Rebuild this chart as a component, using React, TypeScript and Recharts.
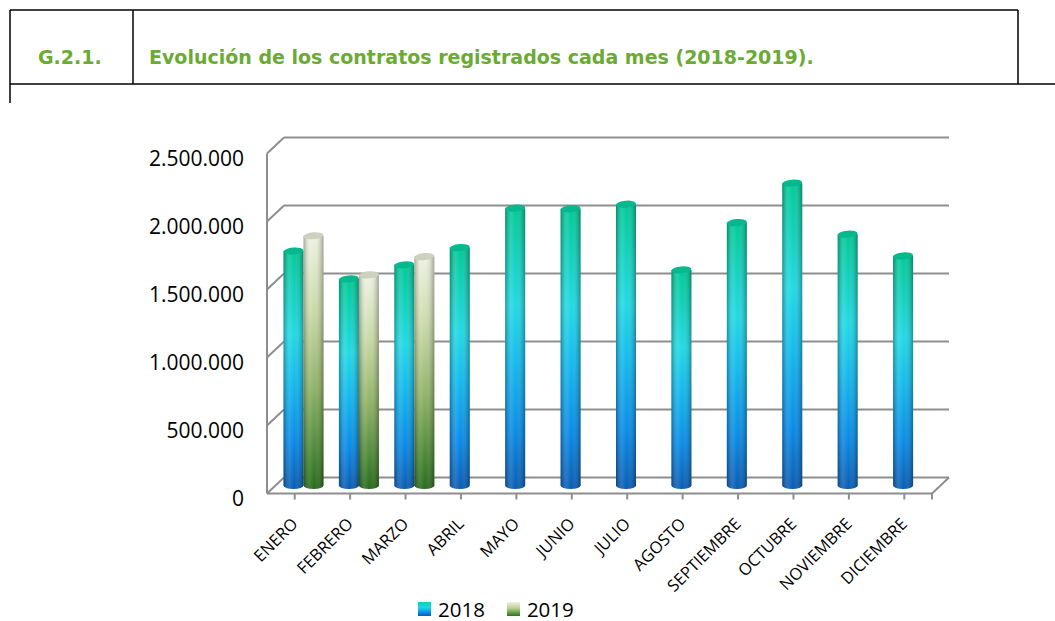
import React from 'react';
import { BarChart, Bar, XAxis, YAxis, CartesianGrid, Legend } from 'recharts';

// ---- data ----
const months = ['ENERO', 'FEBRERO', 'MARZO', 'ABRIL', 'MAYO', 'JUNIO', 'JULIO', 'AGOSTO', 'SEPTIEMBRE', 'OCTUBRE', 'NOVIEMBRE', 'DICIEMBRE'];
const contratos2018 = [1750000, 1545000, 1648000, 1775000, 2065000, 2060000, 2094000, 1611000, 1959000, 2249000, 1874000, 1714000];
const contratos2019: (number | null)[] = [1862000, 1575000, 1709000, null, null, null, null, null, null, null, null, null];
const yTicks = [0, 500000, 1000000, 1500000, 2000000, 2500000];
const seriesNames = ['2018', '2019'];
const titleCode = 'G.2.1.';
const titleText = 'Evolución de los contratos registrados cada mes (2018-2019).';

const data = months.map((m, i) => ({ mes: m, y2018: contratos2018[i], y2019: contratos2019[i] }));

// ---- layout ----
const W = 1055;
const H = 621;
const PLOT_LEFT = 267;
const PLOT_RIGHT = 932;
const PLOT_TOP = 153.5;
const PLOT_BOTTOM = 493.5;
const DEPTH_X = 17;
const DEPTH_Y = -16;
const BAR_DX = 8.5;
const BAR_DY = -8;
const Y_AXIS_W = 100;
const X_AXIS_H = 100;
const GRID = '#8e8e8e';
const FONT = "'Open Sans', 'DejaVu Sans', sans-serif";

const fmt = (v: number) => String(v).replace(/\B(?=(\d{3})+(?!\d))/g, '.');

const gridLine = (p: any) => {
  const { x1, y1, x2, y2 } = p;
  const isFloor = Math.abs(y1 - PLOT_BOTTOM) < 1.5;
  return (
    <g key={p.key}>
      <line x1={x1} y1={y1} x2={x1 + DEPTH_X} y2={y1 + DEPTH_Y} stroke={GRID} strokeWidth={2} />
      <line x1={x1 + DEPTH_X} y1={y1 + DEPTH_Y} x2={x2 + DEPTH_X} y2={y2 + DEPTH_Y} stroke={GRID} strokeWidth={2} />
      {isFloor && <line x1={x2} y1={y2} x2={x2 + DEPTH_X} y2={y2 + DEPTH_Y} stroke={GRID} strokeWidth={2} />}
      {isFloor && <line x1={x2} y1={y2} x2={x2} y2={y2 + 6} stroke={GRID} strokeWidth={2} />}
    </g>
  );
};

const YTick = (p: any) => (
  <text x={PLOT_LEFT - 23} y={p.y + 4} textAnchor="end" dominantBaseline="central" fontFamily={FONT} fontSize={21} fill="#000">
    {fmt(p.payload.value)}
  </text>
);

const XTick = (p: any) => (
  <text
    transform={`translate(${p.x + 4},${PLOT_BOTTOM + 31.5}) rotate(-45)`}
    textAnchor="end"
    fontFamily={FONT}
    fontSize={16.5}
    fill="#000"
  >
    {p.payload.value}
  </text>
);

const Cylinder = (p: any) => {
  const { x, y, width, height, body, top } = p;
  if (x == null || y == null || !height || height <= 0 || isNaN(height)) return null;
  const left = x + BAR_DX;
  const right = left + width;
  const rx = width / 2;
  const ry = 3.5;
  const topY = y + BAR_DY + ry;
  const botY = y + height + BAR_DY;
  const d = `M${left},${topY} L${left},${botY} A${rx},${ry} 0 0 0 ${right},${botY} L${right},${topY} Z`;
  return (
    <g>
      <path d={d} fill={body} />
      <path d={d} fill="url(#shadeH)" />
      <ellipse cx={left + rx} cy={topY} rx={rx} ry={ry} fill={top} transform={`rotate(-5 ${left + rx} ${topY})`} />
    </g>
  );
};

const LegendContent = () => (
  <div style={{ display: 'flex', alignItems: 'center', fontFamily: FONT, fontSize: 20.5, color: '#000', lineHeight: '22px', height: 22, whiteSpace: 'nowrap' }}>
    <span style={{ display: 'inline-block', width: 13, height: 14, background: 'linear-gradient(to bottom, #05d3ae 0%, #1fd6e6 40%, #0a8de6 75%, #0a5db5 100%)' }} />
    <span style={{ marginLeft: 7 }}>{seriesNames[0]}</span>
    <span style={{ display: 'inline-block', width: 13, height: 14, marginLeft: 22, background: 'linear-gradient(to bottom, #eef2e0 0%, #b9cf90 45%, #5e9640 80%, #2d7222 100%)' }} />
    <span style={{ marginLeft: 7 }}>{seriesNames[1]}</span>
  </div>
);

const TitleBox = () => (
  <svg width={W} height={110} style={{ position: 'absolute', left: 0, top: 0 }}>
    <line x1={10} y1={10} x2={1018} y2={10} stroke="#000" strokeWidth={1.5} />
    <line x1={10} y1={10} x2={10} y2={103} stroke="#000" strokeWidth={1.5} />
    <line x1={133} y1={10} x2={133} y2={84} stroke="#000" strokeWidth={1.5} />
    <line x1={1018} y1={10} x2={1018} y2={84} stroke="#000" strokeWidth={1.5} />
    <line x1={10} y1={84} x2={W} y2={84} stroke="#000" strokeWidth={1.5} />
    <text x={38} y={64} fontFamily="'DejaVu Sans', sans-serif" fontWeight="bold" fontSize={19} fill="#6aab34">{titleCode}</text>
    <text x={149} y={64} fontFamily="'DejaVu Sans', sans-serif" fontWeight="bold" fontSize={19} fill="#6aab34">{titleText}</text>
  </svg>
);

export default function App() {
  return (
    <div style={{ position: 'absolute', left: 0, top: 0, width: W, height: H, background: '#fff' }}>
      <TitleBox />
      <div style={{ position: 'absolute', left: 0, top: 0 }}>
        <BarChart
          width={W}
          height={H}
          data={data}
          barSize={20}
          barGap={0}
          margin={{ top: PLOT_TOP, right: W - PLOT_RIGHT, left: PLOT_LEFT - Y_AXIS_W, bottom: H - PLOT_BOTTOM - X_AXIS_H }}
        >
          <defs>
            <linearGradient id="g2018" x1="0" y1="0" x2="0" y2="1">
              <stop offset="0%" stopColor="#02c996" />
              <stop offset="35%" stopColor="#22d9e4" />
              <stop offset="55%" stopColor="#14b9ec" />
              <stop offset="80%" stopColor="#0a8ae6" />
              <stop offset="100%" stopColor="#0a5cb2" />
            </linearGradient>
            <linearGradient id="g2019" x1="0" y1="0" x2="0" y2="1">
              <stop offset="0%" stopColor="#eef2e2" />
              <stop offset="30%" stopColor="#c9d9a8" />
              <stop offset="60%" stopColor="#90b267" />
              <stop offset="85%" stopColor="#4d8836" />
              <stop offset="100%" stopColor="#276b1c" />
            </linearGradient>
            <linearGradient id="shadeH" x1="0" y1="0" x2="1" y2="0">
              <stop offset="0%" stopColor="#000" stopOpacity={0.3} />
              <stop offset="30%" stopColor="#fff" stopOpacity={0.12} />
              <stop offset="55%" stopColor="#fff" stopOpacity={0} />
              <stop offset="100%" stopColor="#000" stopOpacity={0.32} />
            </linearGradient>
          </defs>
          <CartesianGrid vertical={false} horizontal={gridLine} />
          <XAxis
            dataKey="mes"
            interval={0}
            height={X_AXIS_H}
            tick={XTick}
            tickSize={6}
            axisLine={{ stroke: GRID, strokeWidth: 2 }}
            tickLine={{ stroke: GRID, strokeWidth: 2 }}
          />
          <YAxis
            width={Y_AXIS_W}
            domain={[0, 2500000]}
            ticks={yTicks}
            tick={YTick}
            tickLine={false}
            axisLine={{ stroke: GRID, strokeWidth: 2 }}
          />
          <Legend verticalAlign="middle" layout="horizontal" wrapperStyle={{ top: 598, left: 418 }} content={LegendContent} />
          <Bar dataKey="y2018" name={seriesNames[0]} isAnimationActive={false} shape={(p: any) => <Cylinder {...p} body="url(#g2018)" top="#06b88e" />} />
          <Bar dataKey="y2019" name={seriesNames[1]} isAnimationActive={false} shape={(p: any) => <Cylinder {...p} body="url(#g2019)" top="#cdd1bd" />} />
        </BarChart>
      </div>
    </div>
  );
}
